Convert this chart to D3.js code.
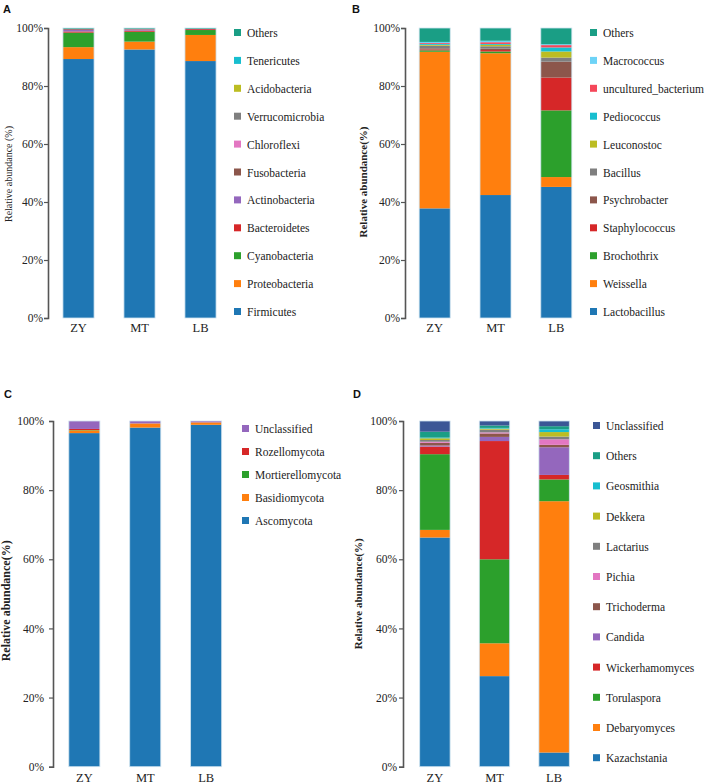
<!DOCTYPE html>
<html><head><meta charset="utf-8">
<script src="https://cdn.jsdelivr.net/npm/d3@7"></script>
<style>
html,body{margin:0;padding:0;background:#fff;}
svg{display:block;}
svg text{font-family:"Liberation Serif","Times New Roman",Times,"DejaVu Serif",serif;}
svg text.letter{font-family:"Liberation Sans",Arial,sans-serif;}
</style></head><body>
<svg id="chart" width="708" height="784"></svg>
<script>
const samples = ["ZY", "MT", "LB"];
const yTicks = [0, 20, 40, 60, 80, 100];

// Panel A: bacterial phyla (bottom to top)
const phylaA = ["Firmicutes","Proteobacteria","Cyanobacteria","Bacteroidetes","Actinobacteria","Fusobacteria","Chloroflexi","Verrucomicrobia","Acidobacteria","Tenericutes","Others"];
const valuesA = {
  ZY: [89.3, 4.1, 5.0, 0.4, 0.5, 0.3, 0.05, 0.05, 0.0, 0.0, 0.3],
  MT: [92.6, 2.7, 3.4, 0.4, 0.3, 0.2, 0.05, 0.05, 0.0, 0.0, 0.3],
  LB: [88.6, 9.0, 1.7, 0.3, 0.05, 0.05, 0.0, 0.0, 0.0, 0.0, 0.3]
};
const colorsA = ["#1f77b4","#ff7f0e","#2ca02c","#d62728","#9467bd","#8c564b","#e377c2","#7f7f7f","#bcbd22","#17becf","#1a9e85"];

// Panel B: bacterial genera
const generaB = ["Lactobacillus","Weissella","Brochothrix","Staphylococcus","Psychrobacter","Bacillus","Leuconostoc","Pediococcus","uncultured_bacterium","Macrococcus","Others"];
const valuesB = {
  ZY: [37.8, 54.0, 0.5, 0.3, 0.4, 0.9, 0.3, 0.3, 0.3, 0.4, 4.8],
  MT: [42.4, 48.9, 0.6, 0.5, 0.5, 0.8, 0.5, 0.3, 0.6, 0.5, 4.4],
  LB: [45.2, 3.4, 23.0, 11.3, 5.5, 1.4, 2.1, 1.4, 0.8, 0.3, 5.6]
};
const colorsB = ["#1f77b4","#ff7f0e","#2ca02c","#d62728","#8c564b","#7f7f7f","#bcbd22","#17becf","#f5475a","#6dd3f7","#1a9e85"];

// Panel C: fungal phyla
const phylaC = ["Ascomycota","Basidiomycota","Mortierellomycota","Rozellomycota","Unclassified"];
const valuesC = {
  ZY: [96.5, 0.8, 0.1, 0.3, 2.3],
  MT: [98.1, 1.2, 0.0, 0.0, 0.7],
  LB: [98.9, 0.7, 0.0, 0.0, 0.4]
};
const colorsC = ["#1f77b4","#ff7f0e","#2ca02c","#d62728","#9467bd"];

// Panel D: fungal genera
const generaD = ["Kazachstania","Debaryomyces","Torulaspora","Wickerhamomyces","Candida","Trichoderma","Pichia","Lactarius","Dekkera","Geosmithia","Others","Unclassified"];
const valuesD = {
  ZY: [66.3, 2.2, 21.9, 2.2, 0.3, 0.8, 0.3, 0.5, 0.5, 0.2, 1.7, 3.1],
  MT: [26.2, 9.5, 24.3, 34.2, 1.2, 1.0, 0.3, 0.8, 0.3, 0.2, 0.7, 1.3],
  LB: [4.1, 72.7, 6.3, 1.3, 8.0, 0.7, 1.6, 0.8, 1.3, 0.8, 0.9, 1.5]
};
const colorsD = ["#1f77b4","#ff7f0e","#2ca02c","#d62728","#9467bd","#8c564b","#e377c2","#7f7f7f","#bcbd22","#17becf","#1a9e85","#3b5796"];

const svg = d3.select("#chart");

function panel(cfg) {
  const g = svg.append("g");
  const y = d3.scaleLinear().domain([0, 100]).range([cfg.y0, cfg.y1]);
  const x = d3.scaleBand().domain(samples).range([cfg.ax, cfg.ax + cfg.w])
    .paddingInner(0.49).paddingOuter(cfg.po);

  const rows = samples.map(s => {
    const o = {sample: s};
    cfg.keys.forEach((k, i) => o[k] = cfg.values[s][i]);
    return o;
  });
  const stack = d3.stack().keys(cfg.keys)(rows);
  stack.forEach((layer, li) => {
    g.append("g").selectAll("rect").data(layer).join("rect")
      .attr("x", d => x(d.data.sample))
      .attr("width", x.bandwidth())
      .attr("y", d => y(d[1]))
      .attr("height", d => Math.max(0, y(d[0]) - y(d[1])))
      .attr("fill", cfg.colors[li]);
  });
  g.append("g").selectAll("rect").data(samples).join("rect")
    .attr("x", d => x(d)).attr("width", x.bandwidth())
    .attr("y", y(100)).attr("height", y(0) - y(100))
    .attr("fill", "none").attr("stroke", "#cfe3ef").attr("stroke-width", 0.8);

  const ya = g.append("g").attr("transform", `translate(${cfg.ax},0)`)
    .call(d3.axisLeft(y).tickValues(yTicks).tickFormat(d => d + "%").tickSize(4).tickPadding(cfg.tpad));
  ya.attr("font-family", null).attr("font-size", null);
  ya.select(".domain").attr("stroke", "#555").attr("stroke-width", 1.6);
  ya.selectAll(".tick line").attr("stroke", "#555").attr("stroke-width", 1.2);
  ya.selectAll("text").attr("font-size", 11.5).attr("fill", "#222");

  const xa = g.append("g").attr("transform", `translate(0,${cfg.y0})`)
    .call(d3.axisBottom(x).tickSize(0).tickPadding(cfg.xpad));
  xa.attr("font-family", null).attr("font-size", null);
  xa.select(".domain").remove();
  xa.selectAll("text").attr("font-size", 12.5).attr("fill", "#222");

  g.append("text")
    .attr("transform", `translate(${cfg.ylx},${(cfg.y0 + cfg.y1) / 2 + cfg.yloff}) rotate(-90)`)
    .attr("text-anchor", "middle")
    .attr("font-size", cfg.ylfs)
    .attr("font-weight", cfg.ylBold ? "bold" : "normal")
    .attr("fill", "#222")
    .text(cfg.ylabel);

  const items = cfg.keys.map((k, i) => ({k, c: cfg.colors[i]})).reverse();
  const lg = g.append("g");
  items.forEach((it, i) => {
    const yy = cfg.ly + i * cfg.lstep;
    lg.append("rect").attr("x", cfg.lx).attr("y", yy - 4).attr("width", 7).attr("height", 7).attr("fill", it.c);
    lg.append("text").attr("x", cfg.lx + 13).attr("y", yy + 4)
      .attr("font-size", 11.5).attr("fill", "#222").text(it.k);
  });

  svg.append("text").attr("class", "letter").attr("x", cfg.px).attr("y", cfg.py)
    .attr("font-weight", "bold").attr("font-size", 11).attr("fill", "#111").text(cfg.letter);
}

panel({letter: "A", px: 3, py: 13, keys: phylaA, values: valuesA, colors: colorsA,
  ax: 48, w: 183, po: 0.245, y0: 318, y1: 28, xpad: 5, tpad: 1, ylx: 12, ylBold: false, ylfs: 10, yloff: 1,
  ylabel: "Relative abundance (%)", lx: 234, ly: 33, lstep: 27.9});
panel({letter: "B", px: 352, py: 13, keys: generaB, values: valuesB, colors: colorsB,
  ax: 405, w: 181, po: 0.233, y0: 318, y1: 28, xpad: 5, tpad: 1, ylx: 367, ylBold: true, ylfs: 11, yloff: 9,
  ylabel: "Relative abundance(%)", lx: 590, ly: 33, lstep: 27.9});
panel({letter: "C", px: 4, py: 398, keys: phylaC, values: valuesC, colors: colorsC,
  ax: 53, w: 184.5, po: 0.26, y0: 766.7, y1: 421, xpad: 6, tpad: 5, ylx: 10, ylBold: true, ylfs: 12, yloff: 7,
  ylabel: "Relative abundance(%)", lx: 242, ly: 429, lstep: 23});
panel({letter: "D", px: 353, py: 398, keys: generaD, values: valuesD, colors: colorsD,
  ax: 403, w: 183, po: 0.28, y0: 766.7, y1: 421, xpad: 6, tpad: 2, ylx: 362, ylBold: true, ylfs: 11, yloff: 0,
  ylabel: "Relative abundance(%)", lx: 593, ly: 426, lstep: 30.2});
</script>
</body></html>
